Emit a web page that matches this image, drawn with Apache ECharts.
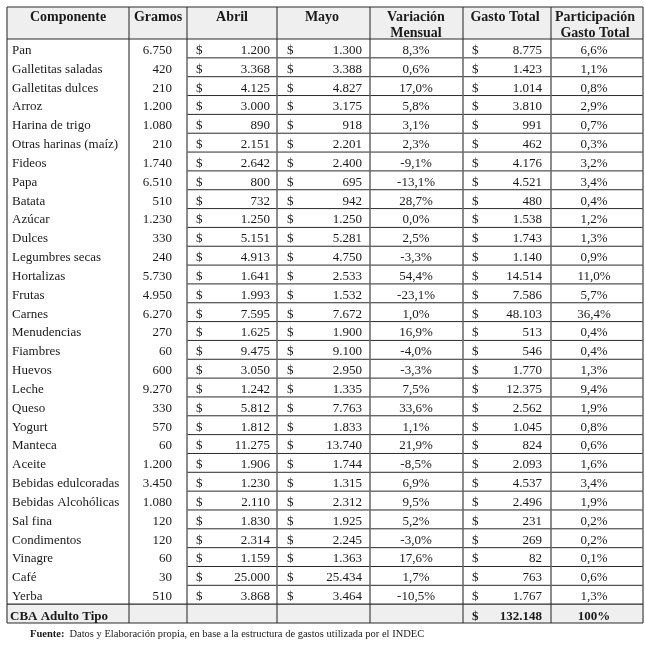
<!DOCTYPE html>
<html>
<head>
<meta charset="utf-8">
<script src="https://cdn.jsdelivr.net/npm/echarts@6/dist/echarts.min.js"></script>
<style>html,body{margin:0;padding:0;background:#fff}#c{width:645px;height:645px}</style>
</head>
<body>
<div id="c"></div>
<script>
// ---- data ----
const headers = ['Componente', 'Gramos', 'Abril', 'Mayo', 'Variación\nMensual', 'Gasto Total', 'Participación\nGasto Total'];
const componentes = ['Pan','Galletitas saladas','Galletitas dulces','Arroz','Harina de trigo','Otras harinas (maíz)','Fideos','Papa','Batata','Azúcar','Dulces','Legumbres secas','Hortalizas','Frutas','Carnes','Menudencias','Fiambres','Huevos','Leche','Queso','Yogurt','Manteca','Aceite','Bebidas edulcoradas','Bebidas Alcohólicas','Sal fina','Condimentos','Vinagre','Café','Yerba'];
const gramos = [6750,420,210,1200,1080,210,1740,6510,510,1230,330,240,5730,4950,6270,270,60,600,9270,330,570,60,1200,3450,1080,120,120,60,30,510];
const abril = [1200,3368,4125,3000,890,2151,2642,800,732,1250,5151,4913,1641,1993,7595,1625,9475,3050,1242,5812,1812,11275,1906,1230,2110,1830,2314,1159,25000,3868];
const mayo = [1300,3388,4827,3175,918,2201,2400,695,942,1250,5281,4750,2533,1532,7672,1900,9100,2950,1335,7763,1833,13740,1744,1315,2312,1925,2245,1363,25434,3464];
const variacion = [8.3,0.6,17.0,5.8,3.1,2.3,-9.1,-13.1,28.7,0.0,2.5,-3.3,54.4,-23.1,1.0,16.9,-4.0,-3.3,7.5,33.6,1.1,21.9,-8.5,6.9,9.5,5.2,-3.0,17.6,1.7,-10.5];
const gastoTotal = [8775,1423,1014,3810,991,462,4176,4521,480,1538,1743,1140,14514,7586,48103,513,546,1770,12375,2562,1045,824,2093,4537,2496,231,269,82,763,1767];
const participacion = [6.6,1.1,0.8,2.9,0.7,0.3,3.2,3.4,0.4,1.2,1.3,0.9,11.0,5.7,36.4,0.4,0.4,1.3,9.4,1.9,0.8,0.6,1.6,3.4,1.9,0.2,0.2,0.1,0.6,1.3];
const totalLabel = 'CBA Adulto Tipo';
const totalGasto = 132148;
const totalParticipacion = '100%';
const fuenteBold = 'Fuente:';
const fuenteText = 'Datos y Elaboración propia, en base a la estructura de gastos utilizada por el INDEC';

// ---- layout ----
const colEdges = [0, 122, 180, 270, 363, 456, 544, 636];
const HEADER_H = 1.7;
const FONT = '"Liberation Serif", "Times New Roman", serif';
const TXT = '#1a1a1a';
const HBG = '#efefef';

function fmtInt(n){ return String(n).replace(/\B(?=(\d{3})+(?!\d))/g, '.'); }
function fmtPct(v){ return v.toFixed(1).replace('.', ',') + '%'; }

function txt(x, y, s, align, opts){
  opts = opts || {};
  return {type:'text', x:x, y:y, silent:true, style:{text:s, fill:TXT, align:align, verticalAlign:'middle',
    fontFamily:FONT, fontSize:opts.size||13, fontWeight:opts.bold?'bold':'normal', lineHeight:opts.lh||16}};
}
function line(x1,y1,x2,y2,color,w){
  return {type:'line', silent:true, shape:{x1:x1,y1:y1,x2:x2,y2:y2}, style:{stroke:color, lineWidth:w}};
}

const rowData = componentes.map((c,i)=>[i, c, gramos[i], abril[i], mayo[i], variacion[i], gastoTotal[i], participacion[i]]);
const nRows = componentes.length;

const chart = echarts.init(document.getElementById('c'), null, {renderer:'canvas'});
chart.setOption({
  animation:false,
  title:{
    text:'{b|' + fuenteBold + '} {r|' + fuenteText + '}',
    left:30, top:625, padding:0,
    textStyle:{fontWeight:'normal', rich:{
      b:{fontFamily:FONT, fontSize:10.5, fontWeight:'bold', color:TXT},
      r:{fontFamily:FONT, fontSize:10.5, fontWeight:'normal', color:TXT}
    }}
  },
  grid:{left:7, right:2, top:7, bottom:22},
  xAxis:{type:'value', min:colEdges[0], max:colEdges[colEdges.length-1], show:false},
  yAxis:{type:'value', min:-HEADER_H, max:nRows+1, inverse:true, show:false},
  series:[
    {
      // header row
      type:'custom', data:[[0]], clip:false, z:2,
      renderItem:function(params, api){
        const tl = api.coord([colEdges[0], -HEADER_H]);
        const br = api.coord([colEdges[7], 0]);
        const ch = [];
        ch.push({type:'rect', shape:{x:tl[0], y:tl[1], width:br[0]-tl[0], height:br[1]-tl[1]}, style:{fill:HBG}});
        const centers = [68, 158, 232, 322, 416, 505, 595];
        headers.forEach((h,k)=>{
          const cx = api.coord([centers[k]-7, 0])[0];
          const lines = h.split('\n');
          lines.forEach((l,j)=>{
            ch.push(txt(cx, tl[1]+10+j*16, l, 'center', {bold:true, size:14}));
          });
        });
        return {type:'group', children:ch};
      }
    },
    {
      // body rows
      type:'custom', data:rowData, clip:false, z:3,
      renderItem:function(params, api){
        const i = api.value(0);
        const r = rowData[params.dataIndex];
        const top = api.coord([0, i])[1];
        const bot = api.coord([0, i+1])[1];
        const cy = (top+bot)/2 + 2;
        const X = v => api.coord([v, i])[0];
        const ch = [
          txt(X(5), cy, r[1], 'left'),
          txt(X(165), cy, fmtInt(r[2]), 'right'),
          txt(X(189), cy, '$', 'left'),
          txt(X(263), cy, fmtInt(r[3]), 'right'),
          txt(X(280), cy, '$', 'left'),
          txt(X(355), cy, fmtInt(r[4]), 'right'),
          txt(X(409), cy, fmtPct(r[5]), 'center'),
          txt(X(465), cy, '$', 'left'),
          txt(X(535), cy, fmtInt(r[6]), 'right'),
          txt(X(587), cy, fmtPct(r[7]), 'center')
        ];
        if (i < nRows-1) ch.push(line(X(colEdges[2]), bot, X(colEdges[7]), bot, '#2a2a2a', 1));
        return {type:'group', children:ch};
      }
    },
    {
      // total row
      type:'custom', data:[[nRows]], clip:false, z:2,
      renderItem:function(params, api){
        const top = api.coord([0, nRows])[1];
        const bot = api.coord([0, nRows+1])[1];
        const X = v => api.coord([v, nRows])[0];
        const ty = bot - 6;
        return {type:'group', children:[
          {type:'rect', shape:{x:X(colEdges[0]), y:top, width:X(colEdges[7])-X(colEdges[0]), height:bot-top}, style:{fill:HBG}},
          txt(X(3), ty, totalLabel, 'left', {bold:true}),
          txt(X(465), ty, '$', 'left', {bold:true}),
          txt(X(535), ty, fmtInt(totalGasto), 'right', {bold:true}),
          txt(X(587), ty, totalParticipacion, 'center', {bold:true})
        ]};
      }
    },
    {
      // grid lines
      type:'custom', data:[[0]], clip:false, z:5,
      renderItem:function(params, api){
        const yTop = api.coord([0, -HEADER_H])[1];
        const yHead = api.coord([0, 0])[1];
        const yTot = api.coord([0, nRows])[1];
        const yBot = api.coord([0, nRows+1])[1];
        const x0 = api.coord([colEdges[0],0])[0];
        const x1 = api.coord([colEdges[7],0])[0];
        const ch = [];
        colEdges.forEach(e=>{
          const x = api.coord([e,0])[0];
          ch.push(line(x, yTop, x, yBot, '#666', 1.5));
        });
        [yTop, yHead, yTot, yBot].forEach(y=>ch.push(line(x0, y, x1, y, '#2a2a2a', 1.2)));
        return {type:'group', children:ch};
      }
    }
  ]
});
</script>
</body>
</html>
